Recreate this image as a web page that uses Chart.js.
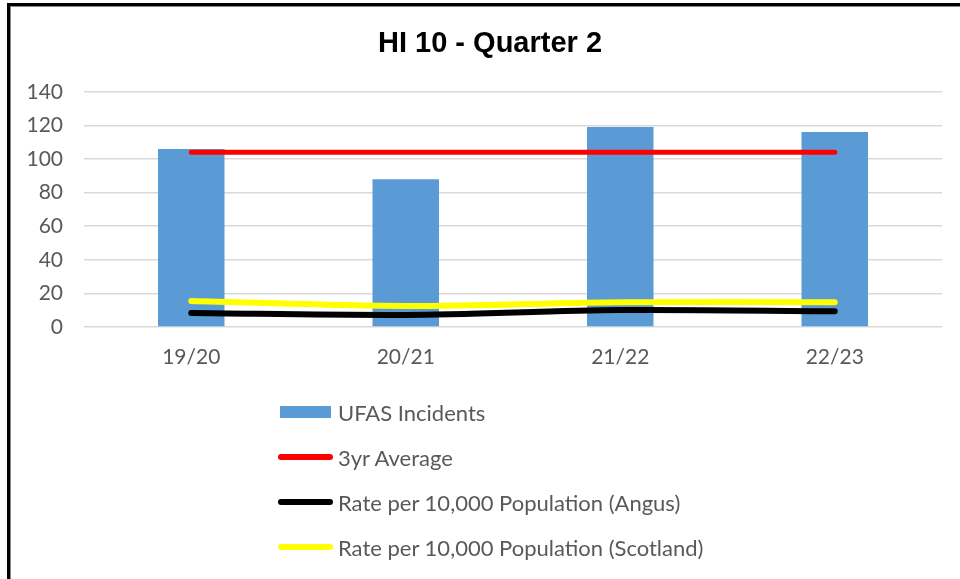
<!DOCTYPE html>
<html lang="en">
<head>
    <meta charset="UTF-8">
    <title>HI 10 - Quarter 2</title>
    <style>
        body {
            margin: 0;
            padding: 0;
            background: #ffffff;
            width: 960px;
            height: 579px;
            overflow: hidden;
            position: relative;
        }

        /* black frame, only top and left edges fall inside the picture */
        .frame {
            position: absolute;
            left: 7px;
            top: 3px;
            width: 1000px;
            height: 620px;
            border-top: 3px solid #000;
            border-left: 3px solid #000;
            box-shadow: inset 1px 1px 0 #888;
        }

        .chart-box {
            position: absolute;
            left: 10px;
            top: 0;
            width: 960px;
            height: 579px;
        }

        #legend {
            position: absolute;
            left: 278px;
            top: 400px;
            font-family: 'Lato', sans-serif;
            font-size: 22px;
            color: #595959;
        }

        .legend-item {
            display: flex;
            align-items: center;
            height: 24px;
            margin-bottom: 21px;
        }

        .legend-swatch {
            width: 55px;
            margin-right: 5px;
        }
    </style>
</head>
<body>
    <div class="frame"></div>
    <div class="chart-box">
        <canvas id="hiChart" width="960" height="579"></canvas>
    </div>
    <div id="legend"></div>

    <script src="https://cdn.jsdelivr.net/npm/chart.js"></script>
    <script>
        // Data
        var years = ['19/20', '20/21', '21/22', '22/23'];
        var ufasIncidents = [106, 88, 119, 116];
        var threeYearAverage = [104, 104, 104, 104];
        var rateAngus = [8.3, 7.2, 10.1, 9.4];
        var rateScotland = [15.5, 12.5, 14.8, 14.8];
        var yTicks = [0, 20, 40, 60, 80, 100, 120, 140];

        var tickColor = '#595959';

        // builds a vertical legend, one entry per row, like the Excel one
        var htmlLegend = {
            id: 'htmlLegend',
            afterUpdate: function(chart) {
                var box = document.getElementById('legend');
                box.innerHTML = '';
                chart.data.datasets.forEach(function(ds) {
                    var item = document.createElement('div');
                    item.className = 'legend-item';

                    var sw = document.createElement('div');
                    sw.className = 'legend-swatch';
                    if (ds.type === 'line') {
                        sw.style.height = '6px';
                        sw.style.borderRadius = '3px';
                        sw.style.background = ds.borderColor;
                    } else {
                        sw.style.height = '12px';
                        sw.style.width = '51px';
                        sw.style.marginLeft = '2px';
                        sw.style.marginRight = '7px';
                        sw.style.background = ds.backgroundColor;
                    }

                    var txt = document.createElement('span');
                    txt.textContent = ds.label;

                    item.appendChild(sw);
                    item.appendChild(txt);
                    box.appendChild(item);
                });
            }
        };

        function lineSet(label, values, colour, width) {
            return {
                type: 'line',
                label: label,
                data: values,
                borderColor: colour,
                backgroundColor: colour,
                borderWidth: width,
                borderCapStyle: 'round',
                borderJoinStyle: 'round',
                pointRadius: 0,
                pointHoverRadius: 0,
                tension: 0.3,
                fill: false,
                order: 0
            };
        }

        var ctx = document.getElementById('hiChart').getContext('2d');
        var hiChart = new Chart(ctx, {
            type: 'bar',
            data: {
                labels: years,
                datasets: [
                    {
                        type: 'bar',
                        label: 'UFAS Incidents',
                        data: ufasIncidents,
                        backgroundColor: '#5b9bd5',
                        borderWidth: 0,
                        categoryPercentage: 1,
                        barPercentage: 0.31,
                        order: 1
                    },
                    lineSet('3yr Average', threeYearAverage, '#ff0000', 5),
                    lineSet('Rate per 10,000 Population (Angus)', rateAngus, '#000000', 6),
                    lineSet('Rate per 10,000 Population (Scotland)', rateScotland, '#ffff00', 6)
                ]
            },
            options: {
                responsive: false,
                animation: false,
                events: [],
                layout: {
                    padding: { top: 27, left: 10, right: 10, bottom: 202 }
                },
                plugins: {
                    legend: { display: false },
                    tooltip: { enabled: false },
                    title: {
                        display: true,
                        text: 'HI 10 - Quarter 2',
                        color: '#000000',
                        font: { family: "'Liberation Sans', Arial, sans-serif", size: 29, weight: 'bold' },
                        padding: { top: 0, bottom: 30 }
                    }
                },
                scales: {
                    x: {
                        grid: { display: false, drawTicks: false },
                        border: { display: false },
                        ticks: {
                            color: tickColor,
                            font: { family: 'Lato', size: 21 },
                            padding: 18
                        },
                        afterFit: function(scale) { scale.height = 50; }
                    },
                    y: {
                        min: 0,
                        max: 140,
                        afterBuildTicks: function(scale) {
                            scale.ticks = yTicks.map(function(v) { return { value: v }; });
                        },
                        grid: { color: '#d9d9d9', lineWidth: 1.5, drawTicks: false },
                        border: { display: false },
                        ticks: {
                            color: tickColor,
                            font: { family: 'Lato', size: 21 },
                            padding: 21
                        },
                        afterFit: function(scale) { scale.width = 64; }
                    },
                    // empty axis on the right, only keeps the plot clear of the right edge
                    yRight: {
                        position: 'right',
                        grid: { display: false, drawTicks: false },
                        border: { display: false },
                        ticks: { display: false },
                        afterFit: function(scale) { scale.width = 18; }
                    }
                }
            },
            plugins: [htmlLegend]
        });
    </script>
</body>
</html>
